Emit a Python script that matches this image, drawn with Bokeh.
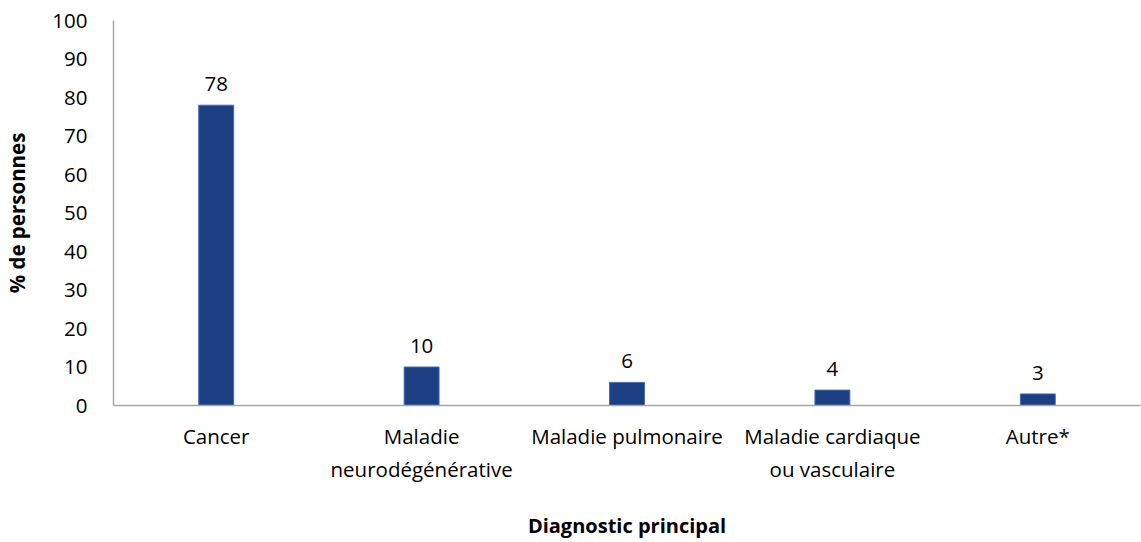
from bokeh.plotting import figure
from bokeh.models import ColumnDataSource, LabelSet, FixedTicker
from bokeh.core.properties import value
from bokeh.embed import file_html
from bokeh.resources import INLINE

# Main diagnosis categories and share of people (%)
categories = ["Cancer", "Maladie\nneurodégénérative", "Maladie pulmonaire",
              "Maladie cardiaque\nou vasculaire", "Autre*"]
values = [78, 10, 6, 4, 3]
y_ticks = [0, 10, 20, 30, 40, 50, 60, 70, 80, 90, 100]

FONT = "Open Sans"
BAR_COLOR = "#1c3f83"
AXIS_COLOR = "#a6a6a6"

source = ColumnDataSource(dict(cat=categories, val=values,
                               lbl=[str(v) for v in values]))

p = figure(x_range=categories, y_range=(0, 100), width=1141, height=542,
           output_backend="svg", toolbar_location=None,
           min_border_left=112, min_border_right=1,
           min_border_top=20, min_border_bottom=136)

p.vbar(x="cat", top="val", width=0.17, source=source,
       fill_color=BAR_COLOR, line_color="#4a6ab0", line_width=1)

labels = LabelSet(x="cat", y="val", text="lbl", source=source,
                  text_align="center", text_baseline="bottom", y_offset=14,
                  text_font=value(FONT), text_font_size="20.5px",
                  text_color="#000000")
p.add_layout(labels)

p.outline_line_color = None
p.grid.grid_line_color = None
p.background_fill_color = "white"
p.border_fill_color = "white"

p.yaxis.ticker = FixedTicker(ticks=y_ticks)
for ax in (p.xaxis[0], p.yaxis[0]):
    ax.axis_line_color = AXIS_COLOR
    ax.axis_line_width = 1.5
    ax.major_tick_line_color = None
    ax.minor_tick_line_color = None
    ax.major_label_text_font = FONT
    ax.major_label_text_font_size = "20.5px"
    ax.major_label_text_color = "#000000"
    ax.axis_label_text_font = FONT
    ax.axis_label_text_font_style = "bold"
    ax.axis_label_text_color = "#000000"

p.yaxis.axis_label = "% de personnes"
p.yaxis.axis_label_text_font_size = "20.5px"
p.yaxis.major_label_standoff = 20
p.yaxis.axis_label_standoff = 18

p.xaxis.axis_label = "Diagnostic principal"
p.xaxis.axis_label_text_font_size = "20px"
p.xaxis.major_label_standoff = 10
p.xaxis.axis_label_standoff = 26

open("out.html", "w").write(file_html(p, INLINE))
